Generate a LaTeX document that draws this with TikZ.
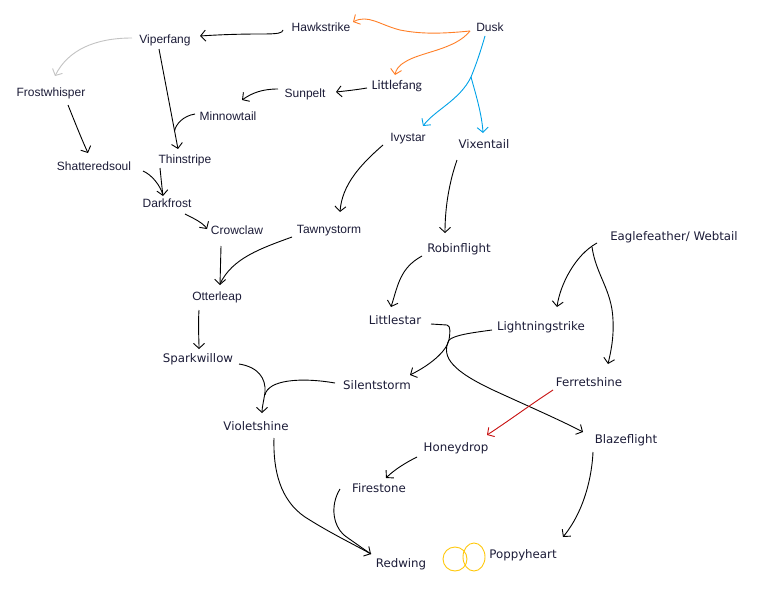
\documentclass[tikz,border=0pt]{standalone}
\usepackage{fontspec}
\setmainfont{Liberation Sans}
\newfontfamily\comicf{DejaVu Sans}
\newfontfamily\calf{Carlito}
\usetikzlibrary{arrows.meta}
\definecolor{txt}{RGB}{28,28,56}
\definecolor{orng}{RGB}{255,127,39}
\definecolor{blu}{RGB}{0,162,232}
\definecolor{gry}{RGB}{195,195,195}
\definecolor{redc}{RGB}{200,16,16}
\definecolor{yel}{RGB}{255,201,14}
\begin{document}
\begin{tikzpicture}[x=1pt,y=-1pt,
 lbl/.style={inner sep=0pt, text height=8.5pt, text depth=0pt, text=txt, anchor=center},
 arlbl/.style={lbl, font=\fontsize{12}{14}\selectfont},
 comlbl/.style={lbl, font=\comicf\fontsize{11.8}{14}\selectfont},
 callbl/.style={lbl, font=\calf\fontsize{13.3}{15}\selectfont},
 blk/.style={line width=0.9pt, draw=black},
 arrw/.style={-{Straight Barb[length=5pt,width=11pt]}},
]
\fill[white] (0,0) rectangle (761,589);
\useasboundingbox (0,0) rectangle (761,589);

% nodes
\node[arlbl] (hawk) at (321,27) {Hawkstrike};
\node[arlbl] (dusk) at (490,27) {Dusk};
\node[arlbl] (viper) at (165,39) {Viperfang};
\node[arlbl] (frost) at (51,92) {Frostwhisper};
\node[callbl] (littlefang) at (397,85) {Littlefang};
\node[arlbl] (sunpelt) at (305,93) {Sunpelt};
\node[arlbl] (minnow) at (228,116) {Minnowtail};
\node[arlbl] (ivy) at (408,137) {Ivystar};
\node[comlbl] (vixen) at (484,144) {Vixentail};
\node[arlbl] (thin) at (185,159) {Thinstripe};
\node[arlbl] (shat) at (94,166) {Shatteredsoul};
\node[arlbl] (dark) at (167,203) {Darkfrost};
\node[arlbl] (crow) at (237,230) {Crowclaw};
\node[arlbl] (tawny) at (329,229) {Tawnystorm};
\node[comlbl] (robin) at (459,248) {Robinflight};
\node[comlbl] (eagle) at (674,236) {Eaglefeather/ Webtail};
\node[arlbl] (otter) at (217,296) {Otterleap};
\node[comlbl] (littlestar) at (395,320) {Littlestar};
\node[comlbl] (lightning) at (541,326) {Lightningstrike};
\node[comlbl] (spark) at (198,358) {Sparkwillow};
\node[comlbl] (silent) at (377,385) {Silentstorm};
\node[comlbl] (ferret) at (589,382) {Ferretshine};
\node[comlbl] (violet) at (256,426) {Violetshine};
\node[comlbl] (honey) at (456,447) {Honeydrop};
\node[comlbl] (blaze) at (626,439) {Blazeflight};
\node[comlbl] (fire) at (379,488) {Firestone};
\node[comlbl] (red) at (401,563) {Redwing};
\node[comlbl] (poppy) at (523,554) {Poppyheart};

% junctions
\coordinate (j1) at (174.5,131);
\coordinate (j2) at (471,77);
\coordinate (j3) at (449,340);

% black connectors
\draw[blk,arrw] ([shift={(-38,3)}]hawk.center) .. controls (282,33) and (280,34) .. (260,34) .. controls (235,34) and (215,35) .. ([shift={(35,-3)}]viper.center);
\draw[line width=0.9pt, draw=gry, arrw] ([shift={(-33,-1)}]viper.center) .. controls (95,38) and (68,50) .. ([shift={(4,-16)}]frost.center);
\draw[blk,arrw] ([shift={(-6,10)}]viper.center) -- ([shift={(-7,-10)}]thin.center);
\draw[blk] ([shift={(-33,-2)}]minnow.center) .. controls (183,116) and (176,124) .. (j1);
\draw[blk,arrw] ([shift={(17,13)}]frost.center) .. controls (76,125) and (82,140) .. ([shift={(-6,-13)}]shat.center);
\draw[blk,arrw] ([shift={(-27,-4)}]sunpelt.center) .. controls (262,89) and (252,93) .. ([shift={(14,-16)}]minnow.center);
\draw[blk,arrw] ([shift={(-30,3)}]littlefang.center) .. controls (355,90) and (345,91) .. ([shift={(31,-1)}]sunpelt.center);
\draw[blk,arrw] ([shift={(-25,9)}]thin.center) .. controls (161,178) and (162,188) .. ([shift={(-4,-7)}]dark.center);
\draw[blk] ([shift={(49,5)}]shat.center) .. controls (152,175) and (160,185) .. ([shift={(-4,-8)}]dark.center);
\draw[blk,arrw] ([shift={(18,11)}]dark.center) .. controls (195,219) and (203,223) .. ([shift={(-30,-1)}]crow.center);
\draw[blk,arrw] ([shift={(-25,8)}]ivy.center) .. controls (360,165) and (342,185) .. ([shift={(11,-17)}]tawny.center);
\draw[blk,arrw] ([shift={(-16,16)}]crow.center) -- ([shift={(3,-11)}]otter.center);
\draw[blk] ([shift={(-37,8)}]tawny.center) .. controls (262,248) and (232,258) .. ([shift={(3,-12)}]otter.center);
\draw[blk,arrw] ([shift={(-27,16)}]vixen.center) .. controls (450,180) and (445,205) .. ([shift={(-14,-15)}]robin.center);
\draw[blk,arrw] ([shift={(-37,8)}]robin.center) .. controls (400,268) and (398,285) .. ([shift={(-4,-13)}]littlestar.center);
\draw[blk,arrw] ([shift={(-77,7)}]eagle.center) .. controls (575,255) and (560,285) .. ([shift={(16,-19)}]lightning.center);
\draw[blk,arrw] ([shift={(-82,11)}]eagle.center) .. controls (596,275) and (612,290) .. (613,320) .. controls (614,340) and (610,355) .. ([shift={(19,-18)}]ferret.center);
\draw[blk] ([shift={(36,4)}]littlestar.center) -- (447,325) .. controls (451,326) and (450,333) .. (j3);
\draw[blk] ([shift={(-49,4)}]lightning.center) .. controls (470,333) and (455,335) .. (j3);
\draw[blk,arrw] (j3) .. controls (446,352) and (430,365) .. ([shift={(33,-10)}]silent.center);
\draw[blk,arrw] (j3) .. controls (440,358) and (455,372) .. (493,390) .. controls (530,407) and (560,420) .. ([shift={(-43,-7)}]blaze.center);
\draw[line width=0.9pt, draw=redc, arrw] ([shift={(-36,8)}]ferret.center) .. controls (530,405) and (510,420) .. ([shift={(31,-12)}]honey.center);
\draw[blk,arrw] ([shift={(-18,14)}]otter.center) .. controls (198,325) and (199,340) .. ([shift={(1,-9)}]spark.center);
\draw[blk,arrw] ([shift={(41,6)}]spark.center) .. controls (258,367) and (266,378) .. (265,392) .. controls (264,400) and (262,407) .. ([shift={(6,-13)}]violet.center);
\draw[blk] ([shift={(-42,-2)}]silent.center) .. controls (300,377) and (268,380) .. (265,395);
\draw[blk,arrw] ([shift={(18,12)}]violet.center) .. controls (273,470) and (280,500) .. (305,517) .. controls (330,533) and (355,545) .. ([shift={(-30,-9)}]red.center);
\draw[blk] ([shift={(-39,1)}]fire.center) .. controls (330,505) and (332,528) .. (348,538) .. controls (358,545) and (365,550) .. ([shift={(-30,-9)}]red.center);
\draw[blk,arrw] ([shift={(-39,10)}]honey.center) .. controls (405,463) and (394,470) .. ([shift={(7,-10)}]fire.center);
\draw[blk,arrw] ([shift={(-33,13)}]blaze.center) .. controls (592,475) and (585,510) .. ([shift={(40,-17)}]poppy.center);

% coloured connectors from Dusk
\draw[line width=0.9pt, draw=orng, arrw] ([shift={(-20,4)}]dusk.center) .. controls (440,34) and (420,34) .. (400,30) .. controls (380,25) and (368,14) .. ([shift={(32,-5)}]hawk.center);
\draw[line width=0.9pt, draw=orng, arrw] ([shift={(-20,4)}]dusk.center) .. controls (455,50) and (420,52) .. (405,62) .. controls (398,66) and (396,70) .. ([shift={(-2,-10)}]littlefang.center);
\draw[line width=0.9pt, draw=blu] ([shift={(-5,9)}]dusk.center) .. controls (481,50) and (476,65) .. (j2);
\draw[line width=0.9pt, draw=blu, arrw] (j2) .. controls (460,100) and (435,110) .. ([shift={(15,-11)}]ivy.center);
\draw[line width=0.9pt, draw=blu, arrw] (j2) .. controls (476,95) and (482,115) .. ([shift={(-1,-11)}]vixen.center);

% yellow loops
\draw[line width=0.9pt, draw=yel] ([shift={(-68,5)}]poppy.center) circle (12);
\draw[line width=0.9pt, draw=yel] ([shift={(-49,3)}]poppy.center) ellipse (11 and 14);
\end{tikzpicture}
\end{document}
